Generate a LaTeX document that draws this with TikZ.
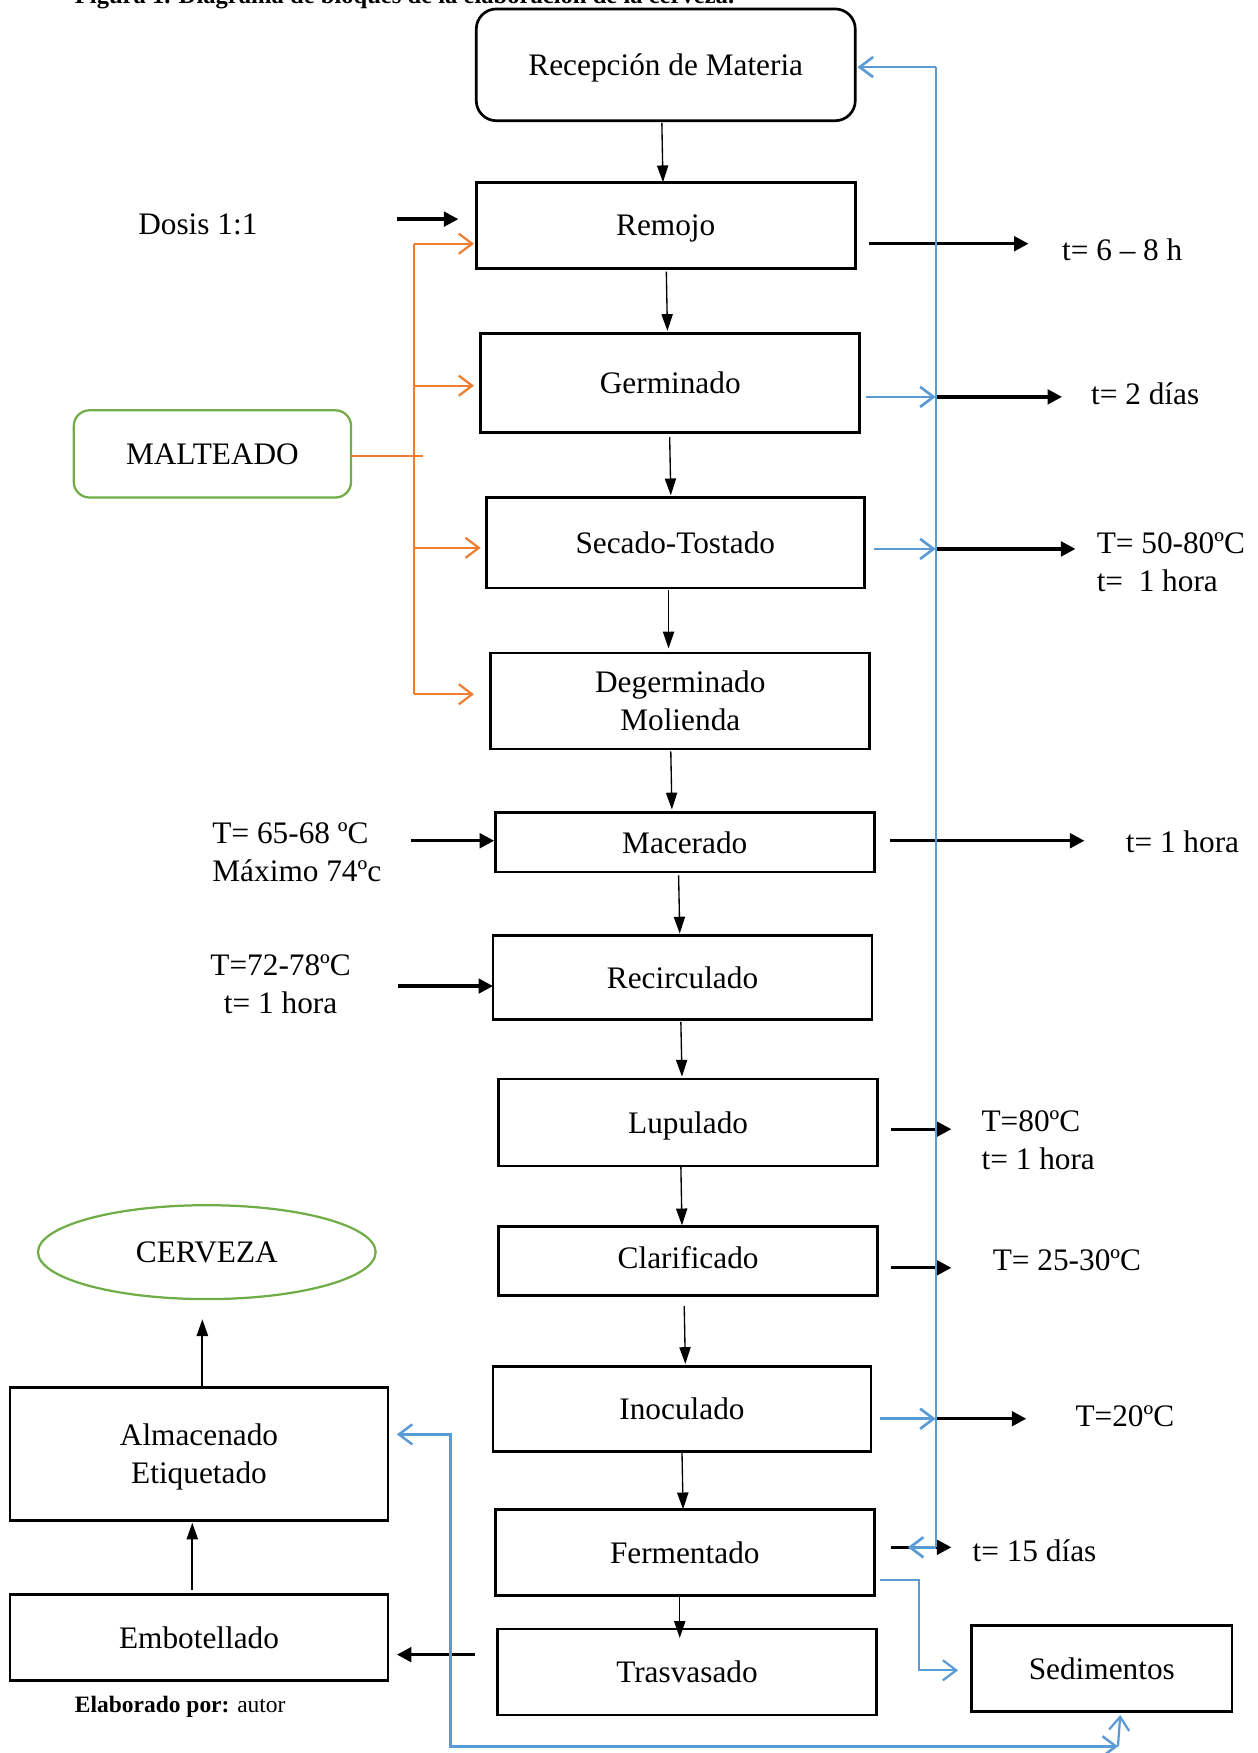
\documentclass[tikz,border=0pt]{standalone}
\usepackage{fontspec}
\setmainfont{Liberation Serif}
\usetikzlibrary{arrows.meta,shapes.geometric,calc}
\definecolor{bl}{HTML}{5B9BD5}
\definecolor{og}{HTML}{ED7D31}
\definecolor{gr}{HTML}{70AD47}
\begin{document}
\begin{tikzpicture}[x=0.5pt,y=-0.5pt,
  every node/.style={font=\fontsize{14}{17}\selectfont},
  box/.style={draw, line width=1.2pt, rectangle, inner sep=0pt, outer sep=0pt, align=center, text depth=0pt},
  lbl/.style={inner sep=0pt, outer sep=0pt},
  va/.style={line width=0.6pt, -{Triangle[length=7.5pt,width=5pt]}},
  ka/.style={line width=1.5pt, -{Triangle[length=6.5pt,width=6.5pt]}},
  bline/.style={draw=bl, line width=0.9pt},
  barrow/.style={draw=bl, line width=1.2pt, -{Straight Barb[length=6pt,width=9pt]}},
  barrowboth/.style={draw=bl, line width=1.1pt, {Straight Barb[length=6pt,width=9pt]}-{Straight Barb[length=6pt,width=9pt]}},
  oline/.style={draw=og, line width=1pt},
  oarrow/.style={draw=og, line width=1pt, -{Straight Barb[length=6pt,width=9pt]}}
]
\useasboundingbox (0,0) rectangle (1125,1568);

% title (partly cut by the page edge)
\node[lbl, anchor=base west, font=\fontsize{11}{13}\selectfont\bfseries] (title) at (67,3) {Figura 1. Diagrama de bloques de la elaboración de la cerveza.};

% main boxes
\node[box, rounded corners=9pt, minimum width=169.5pt, minimum height=50pt] (rec) at (595.5,58) {Recepción de Materia};
\node[box, minimum width=169.5pt, minimum height=38.5pt] (rem) at (595.5,201.5) {Remojo};
\node[box, minimum width=169.5pt, minimum height=44.5pt] (ger) at (599.5,342.5) {Germinado};
\node[box, minimum width=169pt, minimum height=40.5pt] (sec) at (604,485.5) {Secado-Tostado};
\node[box, minimum width=169.5pt, minimum height=43pt] (deg) at (608.5,627) {Degerminado\\Molienda};
\node[box, minimum width=169.5pt, minimum height=26.5pt] (mac) at (612.5,753.5) {Macerado};
\node[box, minimum width=169.5pt, minimum height=37.5pt] (rci) at (610.5,874.5) {Recirculado};
\node[box, minimum width=169.5pt, minimum height=39pt] (lup) at (615.5,1004) {Lupulado};
\node[box, minimum width=169.5pt, minimum height=31pt, text depth=3pt] (cla) at (615.5,1128) {Clarificado};
\node[box, minimum width=169pt, minimum height=38pt] (ino) at (610,1260) {Inoculado};
\node[box, minimum width=169.5pt, minimum height=38.5pt] (fer) at (612.5,1388.5) {Fermentado};
\node[box, minimum width=169.5pt, minimum height=38.5pt] (tra) at (614.5,1495.5) {Trasvasado};
\node[box, minimum width=116.5pt, minimum height=38.5pt] (sed) at (985.5,1492.5) {Sedimentos};
\node[box, minimum width=169pt, minimum height=38.5pt] (emb) at (178,1464.5) {Embotellado};
\node[box, minimum width=169pt, minimum height=59.5pt] (alm) at (178,1300.5) {Almacenado\\Etiquetado};
\node[draw=gr, line width=1pt, ellipse, inner sep=0pt, outer sep=0pt, text depth=0pt, minimum width=151pt, minimum height=42pt] (cer) at (185,1120) {CERVEZA};
\node[draw=gr, line width=1pt, rounded corners=7pt, inner sep=0pt, outer sep=0pt, text depth=0pt, minimum width=124pt, minimum height=39pt] (mal) at (190,406) {MALTEADO};

% labels
\node[lbl] (dos) at (177,201) {Dosis 1:1};
\node[lbl, anchor=west] (l1) at (950,223) {t= 6 – 8 h};
\node[lbl, anchor=west] (l2) at (976,352) {t= 2 días};
\node[lbl, anchor=west, align=left] (l3) at (981,503) {T= 50-80ºC\\t=~~1 hora};
\node[lbl, anchor=west, align=left] (l4) at (190,762) {T= 65-68 ºC\\Máximo 74ºc};
\node[lbl, anchor=west] (l5) at (1007,753) {t= 1 hora};
\node[lbl, align=center] (l6) at (251,880) {T=72-78ºC\\t= 1 hora};
\node[lbl, anchor=west, align=left] (l7) at (878,1020) {T=80ºC\\t= 1 hora};
\node[lbl, anchor=west] (l8) at (888,1127) {T= 25-30ºC};
\node[lbl, anchor=west] (l9) at (962,1267) {T=20ºC};
\node[lbl, anchor=west] (l10) at (870,1387) {t= 15 días};
\node[lbl, anchor=west, font=\fontsize{10.5}{12}\selectfont] (elab) at (67,1527) {\textbf{Elaborado por:} autor};

% main flow arrows
\draw[va] ($(rec.south)+(-3.5,2)$) -- ($(rem.north)+(-2.5,0)$);
\draw[va] ($(rem.south)+(0.5,3)$) -- ($(ger.north)+(-2.5,-2)$);
\draw[va] ($(ger.south)+(-0.5,4)$) -- ($(sec.north)+(-4,-2)$);
\draw[va] ($(sec.south)+(-6,2)$) -- ($(deg.north)+(-10.5,-4)$);
\draw[va] ($(deg.south)+(-8.5,2)$) -- ($(mac.north)+(-11.5,-3)$);
\draw[va] ($(mac.south)+(-5.5,3)$) -- ($(rci.north)+(-2.5,-2)$);
\draw[va] ($(rci.south)+(-1.5,2)$) -- ($(lup.north)+(-5.5,-2)$);
\draw[va] ($(lup.south)+(-6.5,0)$) -- ($(cla.north)+(-5.5,-1)$);
\draw[va] ($(cla.south)+(-3.5,9)$) -- ($(ino.north)+(3,-2)$);
\draw[va] (ino.south) -- ($(fer.north)+(-1.5,0)$);
\draw[va] ($(fer.south)+(-4.5,0)$) -- ($(tra.north)+(-6.5,8)$);
\draw[ka] ($(tra.west)+(-20,-15.5)$) -- ($(emb.east)+(8,15.5)$);
\draw[va, line width=0.9pt] ($(emb.north)+(-6,-4)$) -- ($(alm.south)+(-6,2)$);
\draw[va, line width=0.9pt] ($(alm.north)+(3,-1)$) -- ($(cer.south)+(-4,18)$);

% side inputs / outputs
\draw[ka] ($(rem.west)+(-71,-5.5)$) -- ($(rem.west)+(-16,-5.5)$);
\draw[ka] ($(rem.east)+(12,16.5)$) -- ($(rem.east)+(155,16.5)$);
\draw[ka] ($(ger.east)+(68,12.5)$) -- ($(ger.east)+(181,12.5)$);
\draw[ka] ($(sec.east)+(64,5.5)$) -- ($(sec.east)+(189,5.5)$);
\draw[ka] ($(mac.west)+(-75,-1.5)$) -- ($(mac.west)+(-1,-1.5)$);
\draw[ka] ($(mac.east)+(14,-1.5)$) -- ($(mac.east)+(188,-1.5)$);
\draw[ka] ($(rci.west)+(-85,7.5)$) -- ($(rci.west)+(0,7.5)$);
\draw[ka] ($(lup.east)+(12,6)$) -- ($(lup.east)+(66,6)$);
\draw[ka] ($(cla.east)+(12,6)$) -- ($(cla.east)+(66,6)$);
\draw[ka] ($(ino.east)+(58,9)$) -- ($(ino.east)+(139,9)$);
\draw[ka] ($(fer.east)+(15,-4.5)$) -- ($(fer.east)+(69,-4.5)$);

% blue return line
\coordinate (bt) at ($(rec.east)+(72,2)$);
\coordinate (bb) at ($(fer.east)+(55,-4.5)$);
\draw[bline] (bb) -- (bt);
\draw[barrow] (bt) -- ($(rec.east)+(2,2)$);
\draw[barrow] (bb) -- ++(-25,0);
\draw[barrow] ($(ger.east)+(6,12.5)$) -- ($(ger.east)+(68,12.5)$);
\draw[barrow] ($(sec.east)+(9,5.5)$) -- ($(sec.east)+(64,5.5)$);
\draw[barrow] ($(ino.east)+(8,9)$) -- ($(ino.east)+(58,9)$);
\draw[barrow, line width=1pt] ($(fer.east)+(5,24.5)$) -- ($(fer.east)+(40,24.5)$) |- ($(sed.west)+(-12,1.5)$);
\coordinate (bc) at ($(sed.south)+(14.5,31)$);
\draw[barrow, line width=1pt] (bc) -- ($(sed.south)+(16.5,3)$);
\draw[barrowboth] ($(alm.east)+(8,-17.5)$) -- ++(48,0) |- (bc);

% orange malteado branches
\coordinate (ot) at ($(rem.west)+(-56,16.5)$);
\coordinate (ob) at ($(deg.west)+(-69,-6)$);
\draw[oline] ($(mal.east)+(0,2)$) -- ++(64,0);
\draw[oline] (ot) -- (ob);
\draw[oarrow] (ot) -- ($(rem.west)+(-2,16.5)$);
\coordinate (o2) at ($(ger.west)+(-6,2.5)$);
\draw[oarrow] (ot |- o2) -- (o2);
\coordinate (o3) at ($(sec.west)+(-5,4.5)$);
\draw[oarrow] (ot |- o3) -- (o3);
\draw[oarrow] (ob) -- ($(deg.west)+(-15,-6)$);
\end{tikzpicture}
\end{document}
